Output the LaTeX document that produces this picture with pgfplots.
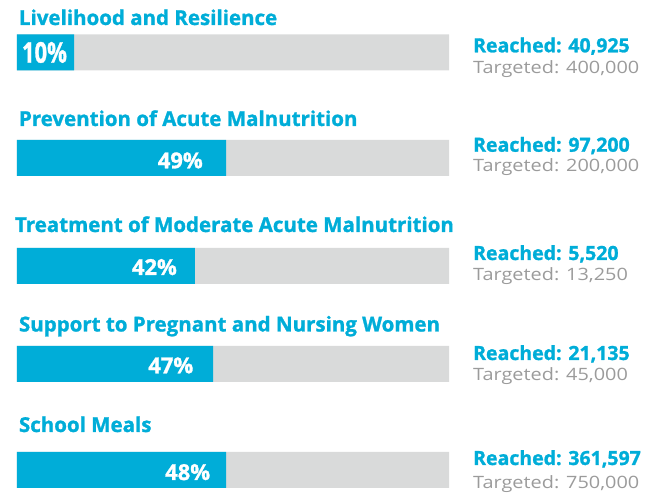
\documentclass[border=0pt]{standalone}
\usepackage{fontspec}
\setmainfont{Open Sans}[BoldFeatures={FakeBold=1.2}]
\usepackage{pgfplots}
\usepackage{pgfplotstable}
\pgfplotsset{compat=1.18}
\definecolor{wfp}{HTML}{00ADD8}
\definecolor{bargray}{HTML}{D9DADA}
\definecolor{targray}{HTML}{9B9B9B}
\pgfplotstableread{
y total fill
440.5 100 13.2
335 100 48.4
227 100 41.2
129 100 45.4
23 100 48.4
}\bars
\tikzset{lw/.style={inner sep=0pt, outer sep=0pt, anchor=base west},
         le/.style={inner sep=0pt, outer sep=0pt, anchor=base east}}
\newcommand{\ttl}[1]{\fontsize{20.5bp}{20.5bp}\selectfont\bfseries\color{wfp}#1}
\newcommand{\pct}[1]{\fontsize{22bp}{22bp}\selectfont\bfseries\color{white}#1}
\newcommand{\rch}[1]{\fontsize{19.5bp}{19.5bp}\selectfont\bfseries\color{wfp}#1}
\newcommand{\tgt}[1]{\scalebox{1.17}[1]{\fontsize{17bp}{17bp}\selectfont\color{targray}#1}}
\begin{document}
\begin{tikzpicture}
\begin{axis}[
  hide axis, scale only axis, width=646bp, height=493bp,
  xmin=-3.935, xmax=145.602, ymin=0, ymax=493,
  clip=false, xbar, bar width=36, bar shift=0pt,
]
\addplot[draw=none, fill=bargray] table[x=total, y=y] {\bars};
\addplot[draw=none, fill=wfp] table[x=fill, y=y] {\bars};
% titles
\node[lw] at (axis cs:0.46,468) {\ttl{Livelihood and Resilience}};
\node[lw] at (axis cs:0.46,367) {\ttl{Prevention of Acute Malnutrition}};
\node[lw] at (axis cs:-0.46,261) {\ttl{Treatment of Moderate Acute Malnutrition}};
\node[lw] at (axis cs:0.46,161.5) {\ttl{Support to Pregnant and Nursing Women}};
\node[lw] at (axis cs:0.46,61) {\ttl{School Meals}};
% percentages
\node[lw] at (axis cs:1.16,430.3) {\scalebox{1}[1.3]{\pct{10\%}}};
\node[le] at (axis cs:43.0,324.7) {\pct{49\%}};
\node[le] at (axis cs:37.0,218) {\pct{42\%}};
\node[le] at (axis cs:40.8,119.7) {\pct{47\%}};
\node[le] at (axis cs:44.7,13) {\pct{48\%}};
% reached / targeted
\node[lw] at (axis cs:105.6,440.7) {\rch{Reached: 40,925}};
\node[lw] at (axis cs:105.6,419.7) {\tgt{Targeted: 400,000}};
\node[lw] at (axis cs:105.6,341.3) {\rch{Reached: 97,200}};
\node[lw] at (axis cs:105.6,321.3) {\tgt{Targeted: 200,000}};
\node[lw] at (axis cs:105.6,233) {\rch{Reached: 5,520}};
\node[lw] at (axis cs:105.6,212.3) {\tgt{Targeted: 13,250}};
\node[lw] at (axis cs:105.6,133) {\rch{Reached: 21,135}};
\node[lw] at (axis cs:105.6,112.3) {\tgt{Targeted: 45,000}};
\node[lw] at (axis cs:105.6,28) {\rch{Reached: 361,597}};
\node[lw] at (axis cs:105.6,4.6) {\tgt{Targeted: 750,000}};
\end{axis}
\pgfresetboundingbox
\path[use as bounding box] (current axis.south west) rectangle (current axis.north east);
\end{tikzpicture}
\end{document}
